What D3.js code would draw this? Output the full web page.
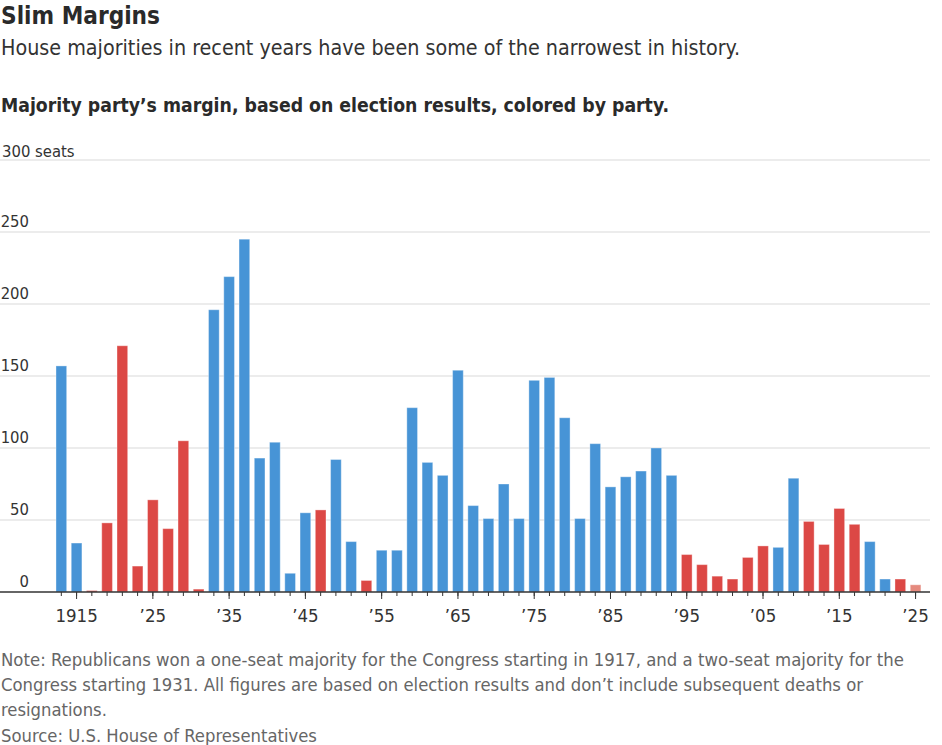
<!DOCTYPE html>
<html lang="en">
<head>
  <meta charset="UTF-8">
  <script src="https://cdn.jsdelivr.net/npm/d3@7"></script>
  <title>Slim Margins</title>
  <style>
    body { margin: 0; background: #fff; }
    svg text { font-family: "DejaVu Sans Condensed", "DejaVu Sans", sans-serif; }
  </style>
</head>
<body>
  <svg width="942" height="745"></svg>
  <script>
    // data: congress start year, majority margin (seats), majority party
    var years = d3.range(1913, 2026, 2);
    var margins = [157, 34, 1, 48, 171, 18, 64, 44, 105, 2,
                   196, 219, 245, 93, 104, 13, 55, 57, 92, 35,
                   8, 29, 29, 128, 90, 81, 154, 60, 51, 75,
                   51, 147, 149, 121, 51, 103, 73, 80, 84, 100,
                   81, 26, 19, 11, 9, 24, 32, 31, 79, 49,
                   33, 58, 47, 35, 9, 9, 5];
    var parties = ["D","D","R","R","R","R","R","R","R","R",
                   "D","D","D","D","D","D","D","R","D","D",
                   "R","D","D","D","D","D","D","D","D","D",
                   "D","D","D","D","D","D","D","D","D","D",
                   "D","R","R","R","R","R","R","D","D","R",
                   "R","R","R","D","D","R","R*"];
    var yTicks = [0, 50, 100, 150, 200, 250, 300];
    var xLabelYears = [1915, 1925, 1935, 1945, 1955, 1965, 1975, 1985, 1995, 2005, 2015, 2025];

    var colors = {"D": "#4794d6", "R": "#dc4845", "R*": "#e58a7e"};

    var svg = d3.select("svg");

    // 1. titles
    svg.append("text").attr("x", 1).attr("y", 23.5)
      .attr("font-size", 24).attr("font-weight", "bold").attr("fill", "#2a2a2a")
      .attr("textLength", 159).attr("lengthAdjust", "spacingAndGlyphs")
      .text("Slim Margins");
    svg.append("text").attr("x", 1).attr("y", 54.5)
      .attr("font-size", 21.3).attr("fill", "#333")
      .attr("textLength", 739).attr("lengthAdjust", "spacingAndGlyphs")
      .text("House majorities in recent years have been some of the narrowest in history.");
    svg.append("text").attr("x", 1).attr("y", 111.5)
      .attr("font-size", 19.3).attr("font-weight", "bold").attr("fill", "#2a2a2a")
      .attr("textLength", 668).attr("lengthAdjust", "spacingAndGlyphs")
      .text("Majority party’s margin, based on election results, colored by party.");

    // 2. scales
    var x = d3.scaleBand().domain(years).range([53.7, 923.2])
      .paddingInner(0.3).paddingOuter(0.15);
    var y = d3.scaleLinear().domain([0, 300]).range([592, 160]);

    // 3. gridlines + y labels
    var grid = svg.append("g");
    grid.selectAll("line").data(yTicks.slice(1)).enter().append("line")
      .attr("x1", 0).attr("x2", 930)
      .attr("y1", function(d){ return y(d) }).attr("y2", function(d){ return y(d) })
      .attr("stroke", "#e6e6e6").attr("stroke-width", 1.5);
    grid.selectAll("text").data(yTicks).enter().append("text")
      .attr("x", function(d){ return d == 300 ? 2 : 29 })
      .attr("y", function(d){ return y(d) - (d == 300 ? 3.5 : 5.5) })
      .attr("text-anchor", function(d){ return d == 300 ? "start" : "end" })
      .attr("font-size", 16.5).attr("fill", "#333")
      .text(function(d){ return d == 300 ? "300 seats" : d });

    // 4. bars
    svg.append("g").selectAll("rect").data(years).enter().append("rect")
      .attr("x", function(d){ return x(d) })
      .attr("width", x.bandwidth())
      .attr("y", function(d, i){ return y(margins[i]) })
      .attr("height", function(d, i){ return y(0) - y(margins[i]) })
      .attr("fill", function(d, i){ return colors[parties[i]] })
      .attr("stroke", "rgba(255,255,255,0.35)").attr("stroke-width", 1);

    // 5. x axis: minor ticks every congress, major ticks with labels
    var minor = svg.append("g").attr("transform", "translate(0,592)")
      .call(d3.axisBottom(x).tickValues(years).tickSize(4).tickFormat(""));
    minor.select(".domain").remove();
    minor.selectAll("line").attr("stroke", "#333");

    var major = svg.append("g").attr("transform", "translate(0,592)")
      .call(d3.axisBottom(x).tickValues(xLabelYears).tickSize(7)
        .tickFormat(function(d){ return d == 1915 ? "1915" : "’" + String(d).slice(2) }));
    major.select(".domain").remove();
    major.selectAll("line").attr("stroke", "#333");
    major.selectAll("text").attr("y", 29.5).attr("dy", 0)
      .attr("font-size", 18.5).attr("fill", "#333")
      .style("font-family", "'DejaVu Sans Condensed', 'DejaVu Sans', sans-serif");

    svg.append("line").attr("x1", 0).attr("x2", 930).attr("y1", 592).attr("y2", 592)
      .attr("stroke", "#333").attr("stroke-width", 1.5);

    // 6. notes
    var notes = [
      "Note: Republicans won a one-seat majority for the Congress starting in 1917, and a two-seat majority for the",
      "Congress starting 1931. All figures are based on election results and don’t include subsequent deaths or",
      "resignations.",
      "Source: U.S. House of Representatives"
    ];
    var noteWidths = [903, 862, null, null];
    svg.append("g").selectAll("text").data(notes).enter().append("text")
      .attr("x", 1).attr("y", function(d, i){ return 665.7 + i * 25.3 })
      .attr("font-size", 18.3).attr("fill", "#666")
      .attr("textLength", function(d, i){ return noteWidths[i] })
      .attr("lengthAdjust", "spacingAndGlyphs")
      .text(function(d){ return d });
  </script>
</body>
</html>
